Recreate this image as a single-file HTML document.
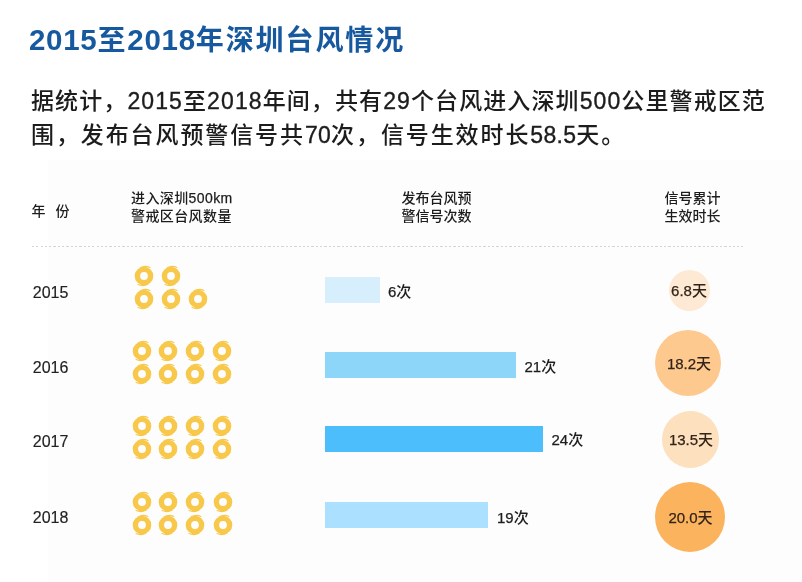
<!DOCTYPE html>
<html lang="zh-CN"><head><meta charset="utf-8">
<style>
*{margin:0;padding:0;box-sizing:border-box}
html,body{width:802px;height:582px;overflow:hidden;background:#fff}
body{position:relative;will-change:transform;font-family:"Liberation Sans","Noto Sans CJK SC",sans-serif;color:#222}
.panel{position:absolute;left:48px;top:160px;width:754px;height:422px;background:#fefdfe}
h1{position:absolute;left:29px;top:23px;font-size:28px;line-height:34px;letter-spacing:1.9px;font-weight:bold;color:#17599e;white-space:nowrap}
.intro{position:absolute;left:31px;font-size:23px;line-height:30px;letter-spacing:1.1px;color:#1c1c1c;font-weight:500;white-space:nowrap}
.intro .d{letter-spacing:0.3px}
b{font-weight:inherit;-webkit-text-stroke:0.35px currentColor}
.num b,.ct b,b.h{-webkit-text-stroke:0.25px currentColor}
.yr{-webkit-text-stroke:0.15px #222}
h1 .d{font-size:29.5px;letter-spacing:0.7px}
.hd{position:absolute;font-size:14px;line-height:18px;color:#1c1c1c;font-weight:500;white-space:nowrap}
.dash{position:absolute;left:32px;top:246px;width:711px;height:1px;background:repeating-linear-gradient(90deg,#d4d4d4 0 2.2px,transparent 2.2px 4.3px)}
.yr{position:absolute;left:32.8px;font-size:16px;line-height:18px;color:#222}
.ic{position:absolute;display:block}
.bar{position:absolute;left:325px;height:26px}
.num{position:absolute;font-size:15px;line-height:18px;color:#1e1e1e;font-weight:500;white-space:nowrap}
.circ{position:absolute;border-radius:50%}
.ct{position:absolute;left:639px;width:100px;text-align:center;font-size:15px;line-height:18px;color:#33241a;font-weight:500;white-space:nowrap}
</style></head><body>
<div class="panel"></div>
<h1><span class="d">2015</span>至<span class="d">2018</span>年深圳台风情况</h1>
<div class="intro" style="top:86px">据统计，<b>2015</b>至<b>2018</b>年间，共有<b>29</b>个台风进入深圳<b>500</b>公里警戒区范</div>
<div class="intro" style="top:119.5px;letter-spacing:1.9px">围，发布台风预警信号共<b class="d">70</b>次，信号生效时长<b class="d">58.5</b>天。</div>
<div class="hd" style="left:31.5px;top:201.5px">年<span style="display:inline-block;width:10px"></span>份</div>
<div class="hd" style="left:131px;top:189px;letter-spacing:0.4px">进入深圳<b class="h">500km</b><br>警戒区台风数量</div>
<div class="hd" style="left:401.5px;top:188.5px">发布台风预<br>警信号次数</div>
<div class="hd" style="left:664.5px;top:188.5px">信号累计<br>生效时长</div>
<div class="dash"></div>
<div class="yr" style="top:283.6px">2015</div>
<svg class="ic" style="left:132.7px;top:264.7px" width="22" height="22" viewBox="0 0 22 22"><circle cx="11" cy="11" r="6.6" fill="none" stroke="#f7c84a" stroke-width="5.4"/><path d="M7 2.9 Q11.5 0.2 17 2.4" fill="none" stroke="#f7c84a" stroke-width="1.1" stroke-linecap="round"/><path d="M15 19.1 Q10.5 21.8 5 19.6" fill="none" stroke="#f7c84a" stroke-width="1.1" stroke-linecap="round"/></svg>
<svg class="ic" style="left:160.1px;top:264.7px" width="22" height="22" viewBox="0 0 22 22"><circle cx="11" cy="11" r="6.6" fill="none" stroke="#f7c84a" stroke-width="5.4"/><path d="M7 2.9 Q11.5 0.2 17 2.4" fill="none" stroke="#f7c84a" stroke-width="1.1" stroke-linecap="round"/><path d="M15 19.1 Q10.5 21.8 5 19.6" fill="none" stroke="#f7c84a" stroke-width="1.1" stroke-linecap="round"/></svg>
<svg class="ic" style="left:132.7px;top:288.2px" width="22" height="22" viewBox="0 0 22 22"><circle cx="11" cy="11" r="6.6" fill="none" stroke="#f7c84a" stroke-width="5.4"/><path d="M7 2.9 Q11.5 0.2 17 2.4" fill="none" stroke="#f7c84a" stroke-width="1.1" stroke-linecap="round"/><path d="M15 19.1 Q10.5 21.8 5 19.6" fill="none" stroke="#f7c84a" stroke-width="1.1" stroke-linecap="round"/></svg>
<svg class="ic" style="left:160.1px;top:288.2px" width="22" height="22" viewBox="0 0 22 22"><circle cx="11" cy="11" r="6.6" fill="none" stroke="#f7c84a" stroke-width="5.4"/><path d="M7 2.9 Q11.5 0.2 17 2.4" fill="none" stroke="#f7c84a" stroke-width="1.1" stroke-linecap="round"/><path d="M15 19.1 Q10.5 21.8 5 19.6" fill="none" stroke="#f7c84a" stroke-width="1.1" stroke-linecap="round"/></svg>
<svg class="ic" style="left:187.0px;top:288.2px" width="22" height="22" viewBox="0 0 22 22"><circle cx="11" cy="11" r="6.6" fill="none" stroke="#f7c84a" stroke-width="5.4"/><path d="M7 2.9 Q11.5 0.2 17 2.4" fill="none" stroke="#f7c84a" stroke-width="1.1" stroke-linecap="round"/><path d="M15 19.1 Q10.5 21.8 5 19.6" fill="none" stroke="#f7c84a" stroke-width="1.1" stroke-linecap="round"/></svg>
<div class="bar" style="top:277px;width:55px;background:#d7effc"></div>
<div class="num" style="top:282.5px;left:388px"><b>6</b>次</div>
<div class="circ" style="left:668.5px;top:269.7px;width:41px;height:41px;background:#fde9d4"></div>
<div class="ct" style="top:282.2px;left:639px"><b>6.8</b>天</div>
<div class="yr" style="top:358.6px">2016</div>
<svg class="ic" style="left:130.5px;top:339.7px" width="22" height="22" viewBox="0 0 22 22"><circle cx="11" cy="11" r="6.6" fill="none" stroke="#f7c84a" stroke-width="5.4"/><path d="M7 2.9 Q11.5 0.2 17 2.4" fill="none" stroke="#f7c84a" stroke-width="1.1" stroke-linecap="round"/><path d="M15 19.1 Q10.5 21.8 5 19.6" fill="none" stroke="#f7c84a" stroke-width="1.1" stroke-linecap="round"/></svg>
<svg class="ic" style="left:157.4px;top:339.7px" width="22" height="22" viewBox="0 0 22 22"><circle cx="11" cy="11" r="6.6" fill="none" stroke="#f7c84a" stroke-width="5.4"/><path d="M7 2.9 Q11.5 0.2 17 2.4" fill="none" stroke="#f7c84a" stroke-width="1.1" stroke-linecap="round"/><path d="M15 19.1 Q10.5 21.8 5 19.6" fill="none" stroke="#f7c84a" stroke-width="1.1" stroke-linecap="round"/></svg>
<svg class="ic" style="left:184.3px;top:339.7px" width="22" height="22" viewBox="0 0 22 22"><circle cx="11" cy="11" r="6.6" fill="none" stroke="#f7c84a" stroke-width="5.4"/><path d="M7 2.9 Q11.5 0.2 17 2.4" fill="none" stroke="#f7c84a" stroke-width="1.1" stroke-linecap="round"/><path d="M15 19.1 Q10.5 21.8 5 19.6" fill="none" stroke="#f7c84a" stroke-width="1.1" stroke-linecap="round"/></svg>
<svg class="ic" style="left:211.3px;top:339.7px" width="22" height="22" viewBox="0 0 22 22"><circle cx="11" cy="11" r="6.6" fill="none" stroke="#f7c84a" stroke-width="5.4"/><path d="M7 2.9 Q11.5 0.2 17 2.4" fill="none" stroke="#f7c84a" stroke-width="1.1" stroke-linecap="round"/><path d="M15 19.1 Q10.5 21.8 5 19.6" fill="none" stroke="#f7c84a" stroke-width="1.1" stroke-linecap="round"/></svg>
<svg class="ic" style="left:130.5px;top:363.2px" width="22" height="22" viewBox="0 0 22 22"><circle cx="11" cy="11" r="6.6" fill="none" stroke="#f7c84a" stroke-width="5.4"/><path d="M7 2.9 Q11.5 0.2 17 2.4" fill="none" stroke="#f7c84a" stroke-width="1.1" stroke-linecap="round"/><path d="M15 19.1 Q10.5 21.8 5 19.6" fill="none" stroke="#f7c84a" stroke-width="1.1" stroke-linecap="round"/></svg>
<svg class="ic" style="left:157.4px;top:363.2px" width="22" height="22" viewBox="0 0 22 22"><circle cx="11" cy="11" r="6.6" fill="none" stroke="#f7c84a" stroke-width="5.4"/><path d="M7 2.9 Q11.5 0.2 17 2.4" fill="none" stroke="#f7c84a" stroke-width="1.1" stroke-linecap="round"/><path d="M15 19.1 Q10.5 21.8 5 19.6" fill="none" stroke="#f7c84a" stroke-width="1.1" stroke-linecap="round"/></svg>
<svg class="ic" style="left:184.3px;top:363.2px" width="22" height="22" viewBox="0 0 22 22"><circle cx="11" cy="11" r="6.6" fill="none" stroke="#f7c84a" stroke-width="5.4"/><path d="M7 2.9 Q11.5 0.2 17 2.4" fill="none" stroke="#f7c84a" stroke-width="1.1" stroke-linecap="round"/><path d="M15 19.1 Q10.5 21.8 5 19.6" fill="none" stroke="#f7c84a" stroke-width="1.1" stroke-linecap="round"/></svg>
<svg class="ic" style="left:211.3px;top:363.2px" width="22" height="22" viewBox="0 0 22 22"><circle cx="11" cy="11" r="6.6" fill="none" stroke="#f7c84a" stroke-width="5.4"/><path d="M7 2.9 Q11.5 0.2 17 2.4" fill="none" stroke="#f7c84a" stroke-width="1.1" stroke-linecap="round"/><path d="M15 19.1 Q10.5 21.8 5 19.6" fill="none" stroke="#f7c84a" stroke-width="1.1" stroke-linecap="round"/></svg>
<div class="bar" style="top:352px;width:191px;background:#8dd6fa"></div>
<div class="num" style="top:357.5px;left:524.5px"><b>21</b>次</div>
<div class="circ" style="left:655.0px;top:330.0px;width:66px;height:66px;background:#fdc98f"></div>
<div class="ct" style="top:355.0px;left:639px"><b>18.2</b>天</div>
<div class="yr" style="top:432.5px">2017</div>
<svg class="ic" style="left:130.5px;top:414.7px" width="22" height="22" viewBox="0 0 22 22"><circle cx="11" cy="11" r="6.6" fill="none" stroke="#f7c84a" stroke-width="5.4"/><path d="M7 2.9 Q11.5 0.2 17 2.4" fill="none" stroke="#f7c84a" stroke-width="1.1" stroke-linecap="round"/><path d="M15 19.1 Q10.5 21.8 5 19.6" fill="none" stroke="#f7c84a" stroke-width="1.1" stroke-linecap="round"/></svg>
<svg class="ic" style="left:157.4px;top:414.7px" width="22" height="22" viewBox="0 0 22 22"><circle cx="11" cy="11" r="6.6" fill="none" stroke="#f7c84a" stroke-width="5.4"/><path d="M7 2.9 Q11.5 0.2 17 2.4" fill="none" stroke="#f7c84a" stroke-width="1.1" stroke-linecap="round"/><path d="M15 19.1 Q10.5 21.8 5 19.6" fill="none" stroke="#f7c84a" stroke-width="1.1" stroke-linecap="round"/></svg>
<svg class="ic" style="left:184.3px;top:414.7px" width="22" height="22" viewBox="0 0 22 22"><circle cx="11" cy="11" r="6.6" fill="none" stroke="#f7c84a" stroke-width="5.4"/><path d="M7 2.9 Q11.5 0.2 17 2.4" fill="none" stroke="#f7c84a" stroke-width="1.1" stroke-linecap="round"/><path d="M15 19.1 Q10.5 21.8 5 19.6" fill="none" stroke="#f7c84a" stroke-width="1.1" stroke-linecap="round"/></svg>
<svg class="ic" style="left:211.3px;top:414.7px" width="22" height="22" viewBox="0 0 22 22"><circle cx="11" cy="11" r="6.6" fill="none" stroke="#f7c84a" stroke-width="5.4"/><path d="M7 2.9 Q11.5 0.2 17 2.4" fill="none" stroke="#f7c84a" stroke-width="1.1" stroke-linecap="round"/><path d="M15 19.1 Q10.5 21.8 5 19.6" fill="none" stroke="#f7c84a" stroke-width="1.1" stroke-linecap="round"/></svg>
<svg class="ic" style="left:130.5px;top:438.2px" width="22" height="22" viewBox="0 0 22 22"><circle cx="11" cy="11" r="6.6" fill="none" stroke="#f7c84a" stroke-width="5.4"/><path d="M7 2.9 Q11.5 0.2 17 2.4" fill="none" stroke="#f7c84a" stroke-width="1.1" stroke-linecap="round"/><path d="M15 19.1 Q10.5 21.8 5 19.6" fill="none" stroke="#f7c84a" stroke-width="1.1" stroke-linecap="round"/></svg>
<svg class="ic" style="left:157.4px;top:438.2px" width="22" height="22" viewBox="0 0 22 22"><circle cx="11" cy="11" r="6.6" fill="none" stroke="#f7c84a" stroke-width="5.4"/><path d="M7 2.9 Q11.5 0.2 17 2.4" fill="none" stroke="#f7c84a" stroke-width="1.1" stroke-linecap="round"/><path d="M15 19.1 Q10.5 21.8 5 19.6" fill="none" stroke="#f7c84a" stroke-width="1.1" stroke-linecap="round"/></svg>
<svg class="ic" style="left:184.3px;top:438.2px" width="22" height="22" viewBox="0 0 22 22"><circle cx="11" cy="11" r="6.6" fill="none" stroke="#f7c84a" stroke-width="5.4"/><path d="M7 2.9 Q11.5 0.2 17 2.4" fill="none" stroke="#f7c84a" stroke-width="1.1" stroke-linecap="round"/><path d="M15 19.1 Q10.5 21.8 5 19.6" fill="none" stroke="#f7c84a" stroke-width="1.1" stroke-linecap="round"/></svg>
<svg class="ic" style="left:211.3px;top:438.2px" width="22" height="22" viewBox="0 0 22 22"><circle cx="11" cy="11" r="6.6" fill="none" stroke="#f7c84a" stroke-width="5.4"/><path d="M7 2.9 Q11.5 0.2 17 2.4" fill="none" stroke="#f7c84a" stroke-width="1.1" stroke-linecap="round"/><path d="M15 19.1 Q10.5 21.8 5 19.6" fill="none" stroke="#f7c84a" stroke-width="1.1" stroke-linecap="round"/></svg>
<div class="bar" style="top:426px;width:218px;background:#4cbefb"></div>
<div class="num" style="top:430.5px;left:551.5px"><b>24</b>次</div>
<div class="circ" style="left:661.5px;top:411.0px;width:57px;height:57px;background:#fde0bd"></div>
<div class="ct" style="top:430.5px;left:641px"><b>13.5</b>天</div>
<div class="yr" style="top:508.6px">2018</div>
<svg class="ic" style="left:130.5px;top:491.2px" width="22" height="22" viewBox="0 0 22 22"><circle cx="11" cy="11" r="6.6" fill="none" stroke="#f7c84a" stroke-width="5.4"/><path d="M7 2.9 Q11.5 0.2 17 2.4" fill="none" stroke="#f7c84a" stroke-width="1.1" stroke-linecap="round"/><path d="M15 19.1 Q10.5 21.8 5 19.6" fill="none" stroke="#f7c84a" stroke-width="1.1" stroke-linecap="round"/></svg>
<svg class="ic" style="left:157.4px;top:491.2px" width="22" height="22" viewBox="0 0 22 22"><circle cx="11" cy="11" r="6.6" fill="none" stroke="#f7c84a" stroke-width="5.4"/><path d="M7 2.9 Q11.5 0.2 17 2.4" fill="none" stroke="#f7c84a" stroke-width="1.1" stroke-linecap="round"/><path d="M15 19.1 Q10.5 21.8 5 19.6" fill="none" stroke="#f7c84a" stroke-width="1.1" stroke-linecap="round"/></svg>
<svg class="ic" style="left:184.3px;top:491.2px" width="22" height="22" viewBox="0 0 22 22"><circle cx="11" cy="11" r="6.6" fill="none" stroke="#f7c84a" stroke-width="5.4"/><path d="M7 2.9 Q11.5 0.2 17 2.4" fill="none" stroke="#f7c84a" stroke-width="1.1" stroke-linecap="round"/><path d="M15 19.1 Q10.5 21.8 5 19.6" fill="none" stroke="#f7c84a" stroke-width="1.1" stroke-linecap="round"/></svg>
<svg class="ic" style="left:211.5px;top:491.2px" width="22" height="22" viewBox="0 0 22 22"><circle cx="11" cy="11" r="6.6" fill="none" stroke="#f7c84a" stroke-width="5.4"/><path d="M7 2.9 Q11.5 0.2 17 2.4" fill="none" stroke="#f7c84a" stroke-width="1.1" stroke-linecap="round"/><path d="M15 19.1 Q10.5 21.8 5 19.6" fill="none" stroke="#f7c84a" stroke-width="1.1" stroke-linecap="round"/></svg>
<svg class="ic" style="left:130.5px;top:514.4px" width="22" height="22" viewBox="0 0 22 22"><circle cx="11" cy="11" r="6.6" fill="none" stroke="#f7c84a" stroke-width="5.4"/><path d="M7 2.9 Q11.5 0.2 17 2.4" fill="none" stroke="#f7c84a" stroke-width="1.1" stroke-linecap="round"/><path d="M15 19.1 Q10.5 21.8 5 19.6" fill="none" stroke="#f7c84a" stroke-width="1.1" stroke-linecap="round"/></svg>
<svg class="ic" style="left:157.4px;top:514.4px" width="22" height="22" viewBox="0 0 22 22"><circle cx="11" cy="11" r="6.6" fill="none" stroke="#f7c84a" stroke-width="5.4"/><path d="M7 2.9 Q11.5 0.2 17 2.4" fill="none" stroke="#f7c84a" stroke-width="1.1" stroke-linecap="round"/><path d="M15 19.1 Q10.5 21.8 5 19.6" fill="none" stroke="#f7c84a" stroke-width="1.1" stroke-linecap="round"/></svg>
<svg class="ic" style="left:184.3px;top:514.4px" width="22" height="22" viewBox="0 0 22 22"><circle cx="11" cy="11" r="6.6" fill="none" stroke="#f7c84a" stroke-width="5.4"/><path d="M7 2.9 Q11.5 0.2 17 2.4" fill="none" stroke="#f7c84a" stroke-width="1.1" stroke-linecap="round"/><path d="M15 19.1 Q10.5 21.8 5 19.6" fill="none" stroke="#f7c84a" stroke-width="1.1" stroke-linecap="round"/></svg>
<svg class="ic" style="left:211.5px;top:514.4px" width="22" height="22" viewBox="0 0 22 22"><circle cx="11" cy="11" r="6.6" fill="none" stroke="#f7c84a" stroke-width="5.4"/><path d="M7 2.9 Q11.5 0.2 17 2.4" fill="none" stroke="#f7c84a" stroke-width="1.1" stroke-linecap="round"/><path d="M15 19.1 Q10.5 21.8 5 19.6" fill="none" stroke="#f7c84a" stroke-width="1.1" stroke-linecap="round"/></svg>
<div class="bar" style="top:502px;width:163px;background:#abe1fe"></div>
<div class="num" style="top:508.5px;left:497px"><b>19</b>次</div>
<div class="circ" style="left:654.5px;top:481.6px;width:70px;height:70px;background:#fbb35e"></div>
<div class="ct" style="top:509.1px;left:640.5px"><b>20.0</b>天</div>
</body></html>
